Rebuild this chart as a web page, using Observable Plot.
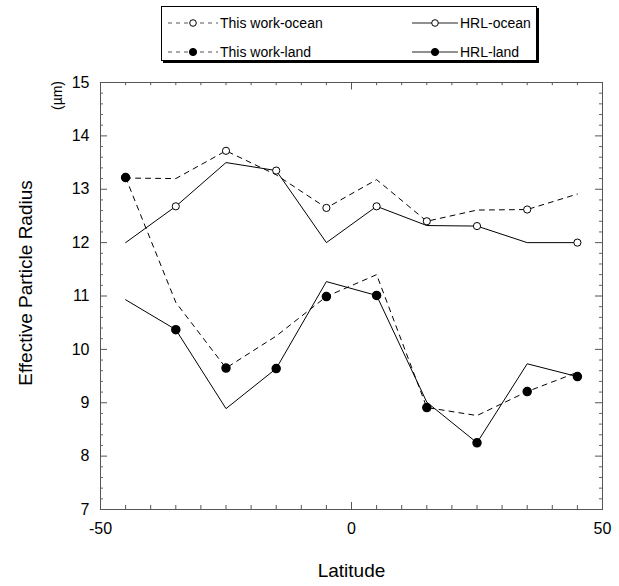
<!DOCTYPE html>
<html><head><meta charset="utf-8">
<script src="https://cdn.jsdelivr.net/npm/d3@7"></script>
<script src="https://cdn.jsdelivr.net/npm/@observablehq/plot@0.6"></script>
<style>
body{margin:0;background:#fff;font-family:"Liberation Sans",Arial,Helvetica,sans-serif;}
#wrap{position:relative;width:619px;}
#legend{height:66px;position:relative;}
.box{position:absolute;left:161px;top:6px;width:374px;height:53px;border:1px solid #000;box-shadow:2px 2px 0 #000;background:#fff;}
.item{position:absolute;display:flex;align-items:center;font-size:14px;color:#000;line-height:14px;}
.item svg{margin-right:2px;}
</style>
</head><body>
<div id="wrap">
<div id="legend"><div class="box" id="box"></div></div>
<div id="chart"></div>
</div>
<script>
const latitude = [-45, -35, -25, -15, -5, 5, 15, 25, 35, 45];
const thisWorkOcean = [13.21, 13.20, 13.72, 13.27, 12.65, 13.18, 12.40, 12.61, 12.62, 12.91];
const hrlOcean      = [12.00, 12.68, 13.50, 13.35, 12.00, 12.68, 12.32, 12.31, 12.00, 12.00];
const thisWorkLand  = [13.22, 10.88, 9.65, 10.25, 10.99, 11.40, 8.91, 8.76, 9.21, 9.57];
const hrlLand       = [10.93, 10.37, 8.89, 9.64, 11.27, 11.01, 9.01, 8.25, 9.73, 9.49];
// which series carries the marker at each latitude (as in the original figure)
const markerOn = ["this", "hrl", "this", "hrl", "this", "hrl", "this", "hrl", "this", "hrl"];

const xTickLabels = [-50, 0, 50];
const yTickLabels = [7, 8, 9, 10, 11, 12, 13, 14, 15];
const xMinorTicks = [-45, -40, -35, -30, -25, -20, -15, -10, -5, 5, 10, 15, 20, 25, 30, 35, 40, 45];
const xMajorTicks = [0];
const yMinorTicks = d3.range(7, 15.001, 0.2).map(v => +v.toFixed(1)).filter(v => Math.abs(v - Math.round(v)) > 1e-6);
const yMajorTicks = [8, 9, 10, 11, 12, 13, 14];

const legendItems = [
  {label: "This work-ocean", dash: true, filled: false, col: 0, row: 0},
  {label: "HRL-ocean", dash: false, filled: false, col: 1, row: 0},
  {label: "This work-land", dash: true, filled: true, col: 0, row: 1},
  {label: "HRL-land", dash: false, filled: true, col: 1, row: 1}
];

const rows = latitude.map((lat, i) => ({
  lat, i, thisOcean: thisWorkOcean[i], hrlOcean: hrlOcean[i],
  thisLand: thisWorkLand[i], hrlLand: hrlLand[i], marker: markerOn[i]
}));

// legend
const box = document.getElementById("box");
legendItems.forEach(it => {
  const d = document.createElement("div");
  d.className = "item";
  d.style.left = (it.col === 0 ? 6 : 250) + "px";
  d.style.top = (it.row === 0 ? 9 : 38) + "px";
  const sw = it.col === 0 ? 50 : 46;
  d.innerHTML = `<svg width="${sw}" height="12"><line x1="0" x2="${sw}" y1="6" y2="6" stroke="${it.dash ? "#555" : "#222"}" stroke-width="1" ${it.dash ? 'stroke-dasharray="4,4"' : ''}/>` +
    `<circle cx="${sw/2}" cy="6" r="${it.filled ? 3.6 : 3.3}" fill="${it.filled ? "#000" : "#fff"}" stroke="#000" stroke-width="1"/></svg><span>${it.label}</span>`;
  box.appendChild(d);
});

const font = '"Liberation Sans", Arial, Helvetica, sans-serif';
const chart = Plot.plot({
  width: 619, height: 520,
  marginTop: 16, marginLeft: 100, marginRight: 17, marginBottom: 77,
  x: {domain: [-50, 50]},
  y: {domain: [7, 15]},
  style: {fontFamily: font, fontSize: "16px", color: "#000", background: "#fff"},
  marks: [
    Plot.frame({stroke: "#555", strokeWidth: 1}),
    // inward ticks bottom / top
    Plot.ruleX(xMinorTicks, {x: d => d, y1: 7, y2: 7.075, stroke: "#555"}),
    Plot.ruleX(xMinorTicks, {x: d => d, y1: 15, y2: 14.94, stroke: "#555"}),
    Plot.ruleX(xMajorTicks, {x: d => d, y1: 7, y2: 7.13, stroke: "#555"}),
    Plot.ruleX(xMajorTicks, {x: d => d, y1: 15, y2: 14.86, stroke: "#555"}),
    // inward ticks left / right
    Plot.ruleY(yMinorTicks, {y: d => d, x1: -50, x2: -49.4, stroke: "#666"}),
    Plot.ruleY(yMinorTicks, {y: d => d, x1: 50, x2: 49.4, stroke: "#666"}),
    Plot.ruleY(yMajorTicks, {y: d => d, x1: -50, x2: -48.6, stroke: "#555"}),
    Plot.ruleY(yMajorTicks, {y: d => d, x1: 50, x2: 48.6, stroke: "#555"}),
    Plot.axisX({ticks: xTickLabels, tickFormat: d => String(d), tickSize: 0, tickPadding: 13, label: null, fontSize: 16}),
    Plot.axisY({ticks: yTickLabels, tickFormat: d => String(d), tickSize: 0, tickPadding: 11, label: null, fontSize: 16}),
    // lines
    Plot.line(rows, {x: "lat", y: "hrlOcean", stroke: "#000", strokeWidth: 1}),
    Plot.line(rows, {x: "lat", y: "hrlLand", stroke: "#000", strokeWidth: 1}),
    Plot.line(rows, {x: "lat", y: "thisOcean", stroke: "#000", strokeWidth: 1, strokeDasharray: "5,5"}),
    Plot.line(rows, {x: "lat", y: "thisLand", stroke: "#000", strokeWidth: 1, strokeDasharray: "5,5"}),
    // markers
    Plot.dot(rows, {filter: d => d.marker === "this", x: "lat", y: "thisOcean", r: 3.6, fill: "#fff", stroke: "#000", strokeWidth: 1}),
    Plot.dot(rows, {filter: d => d.marker === "hrl", x: "lat", y: "hrlOcean", r: 3.6, fill: "#fff", stroke: "#000", strokeWidth: 1}),
    Plot.dot(rows, {filter: d => d.marker === "this", x: "lat", y: "thisLand", r: 4, fill: "#000", stroke: "#000"}),
    Plot.dot(rows, {filter: d => d.marker === "hrl", x: "lat", y: "hrlLand", r: 4, fill: "#000", stroke: "#000"}),
    // axis titles
    Plot.text(["Latitude"], {frameAnchor: "bottom", dy: 61, fontSize: 19, textAnchor: "middle", lineAnchor: "middle"}),
    Plot.text(["Effective Particle Radius"], {frameAnchor: "left", dx: -75, dy: -13, rotate: -90, fontSize: 19, textAnchor: "middle", lineAnchor: "middle"}),
    Plot.text(["(µm)"], {frameAnchor: "top-left", dx: -43, dy: 13, rotate: -90, fontSize: 14, textAnchor: "middle", lineAnchor: "middle"})
  ]
});
document.getElementById("chart").appendChild(chart);
</script>
</body></html>
